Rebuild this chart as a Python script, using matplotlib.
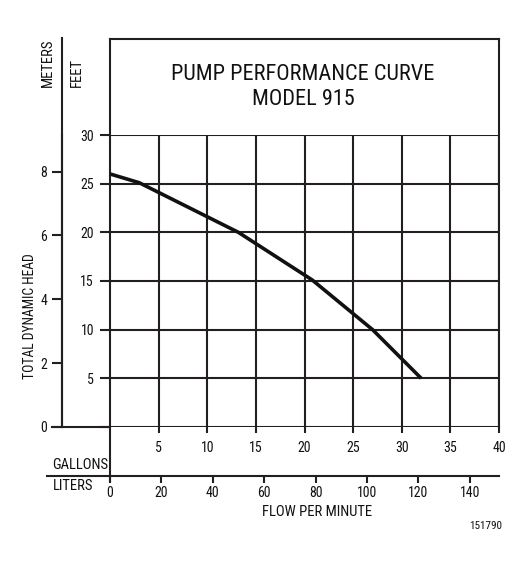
import matplotlib
matplotlib.use("Agg")
import matplotlib.pyplot as plt

plt.rcParams['font.family'] = ['Roboto Condensed', 'Liberation Sans', 'DejaVu Sans']

# ---- data ----
flow_gpm = [0, 3, 13.2, 20.8, 27, 32]
head_ft = [26, 25.1, 20, 15.1, 10, 5]
gallon_ticks = [5, 10, 15, 20, 25, 30, 35, 40]
feet_ticks = [0, 5, 10, 15, 20, 25, 30]
feet_labels = ["", "5", "10", "15", "20", "25", "30"]
meter_ticks = [0, 2, 4, 6, 8]
liter_ticks = [0, 20, 40, 60, 80, 100, 120, 140]
title_lines = ["PUMP PERFORMANCE CURVE", "MODEL 915"]

GAL2L = 3.78541
FT2M = 0.3048

W, H = 526, 568
fig = plt.figure(figsize=(W / 100, H / 100), dpi=100)
fig.patch.set_facecolor('white')

L, R, T, B = 110, 499, 135, 427
ax = fig.add_axes([L / W, (H - B) / H, (R - L) / W, (B - T) / H])
ax.set_xlim(0, 40)
ax.set_ylim(0, 30)

C = '#231f20'
TC = '#111111'
LW = 1.5
px = 0.72  # points per pixel
FS = 10

for s in ax.spines.values():
    s.set_visible(False)

def ax_x(xp):
    return (xp - L) / (R - L)

def ax_y(yp):
    return (B - yp) / (B - T)

# grid
for g in gallon_ticks:
    ax.axvline(g, color=C, lw=LW, zorder=1)
for f in feet_ticks:
    ax.axhline(f, color=C, lw=LW, zorder=1)

ax.set_xticks(gallon_ticks)
ax.set_xticklabels([str(g) for g in gallon_ticks])
ax.set_yticks(feet_ticks)
ax.set_yticklabels(feet_labels)
ax.tick_params(axis='x', direction='out', length=6 * px, width=LW, color=C,
               pad=8 * px, labelsize=FS, labelcolor=TC)
ax.tick_params(axis='y', direction='out', length=10 * px, width=LW, color=C,
               pad=6 * px, labelsize=FS, labelcolor=TC)

# frame lines
tr = ax.transAxes
ax.plot([0, 0], [ax_y(482), ax_y(39)], color=C, lw=LW, transform=tr, clip_on=False)
ax.plot([0, 1], [ax_y(39), ax_y(39)], color=C, lw=LW, transform=tr, clip_on=False)
ax.plot([1, 1], [0, ax_y(39)], color=C, lw=LW, transform=tr, clip_on=False)
# zero line extension to meters axis
ax.plot([ax_x(52), 0], [0, 0], color=C, lw=LW, transform=tr, clip_on=False)
# meters axis line extension
ax.plot([ax_x(62), ax_x(62)], [0, ax_y(38)], color=C, lw=LW, transform=tr, clip_on=False)
# liters axis line extension
ax.plot([ax_x(47), 0], [ax_y(476), ax_y(476)], color=C, lw=LW, transform=tr, clip_on=False)

# meters secondary axis
may = ax.secondary_yaxis(ax_x(62), functions=(lambda f: f * FT2M, lambda m: m / FT2M))
may.set_yticks(meter_ticks)
may.set_yticklabels([str(m) for m in meter_ticks])
may.tick_params(direction='out', length=10 * px, width=LW, color=C, pad=5 * px,
                labelsize=FS, labelcolor=TC)
may.spines['left'].set_color(C)
may.spines['left'].set_linewidth(LW)

# liters secondary axis
lax = ax.secondary_xaxis(ax_y(476), functions=(lambda g: g * GAL2L, lambda l: l / GAL2L))
lax.set_xticks(liter_ticks)
lax.set_xticklabels([str(v) for v in liter_ticks])
lax.tick_params(direction='out', length=7 * px, width=LW, color=C, pad=3 * px,
                labelsize=FS, labelcolor=TC)
lax.spines['bottom'].set_color(C)
lax.spines['bottom'].set_linewidth(LW)

# curve
ax.plot(flow_gpm, head_ft, color='#111111', lw=2.6, solid_capstyle='butt',
        zorder=3, clip_on=False)

# texts
def ftext(xp, yp, s, **kw):
    fig.text(xp / W, 1 - yp / H, s, **kw)

ftext(303, 74.5, title_lines[0], ha='center', va='center', fontsize=16, color=TC)
ftext(303, 99.5, title_lines[1], ha='center', va='center', fontsize=16, color=TC)
ftext(52, 465, "GALLONS", ha='left', va='center', fontsize=10.5, color=TC)
ftext(53, 486, "LITERS", ha='left', va='center', fontsize=10.5, color=TC)
ftext(317, 512, "FLOW PER MINUTE", ha='center', va='center', fontsize=10.5, color=TC)
ftext(502, 526, "151790", ha='right', va='center', fontsize=8, color=TC)
ftext(30, 316, "TOTAL DYNAMIC HEAD", ha='center', va='center', rotation=90, fontsize=9.8, color=TC)
ftext(48, 87, "METERS", ha='center', va='bottom', rotation=90, fontsize=10.5, color=TC)
ftext(77, 87, "FEET", ha='center', va='bottom', rotation=90, fontsize=10.5, color=TC)

fig.savefig('out.png', dpi=100, facecolor='white')
